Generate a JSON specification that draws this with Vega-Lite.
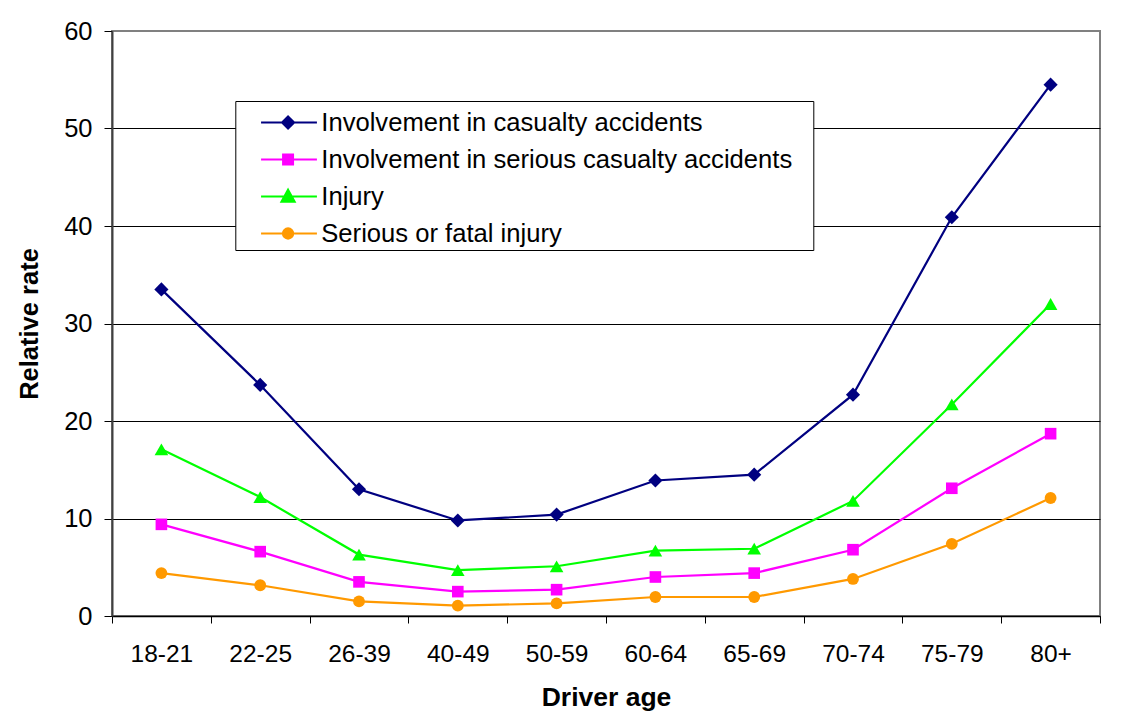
{
  "$schema": "https://vega.github.io/schema/vega-lite/v6.json",
  "width": 988,
  "height": 585,
  "autosize": "none",
  "padding": {"left": 112, "top": 31, "right": 28, "bottom": 104},
  "background": "white",
  "config": {
    "font": "Liberation Sans",
    "view": {"stroke": "#808080", "strokeWidth": 2}
  },
  "data": {
    "values": [
      {"age": "18-21", "series": "Involvement in casualty accidents", "value": 33.5},
      {"age": "22-25", "series": "Involvement in casualty accidents", "value": 23.7},
      {"age": "26-39", "series": "Involvement in casualty accidents", "value": 13.0},
      {"age": "40-49", "series": "Involvement in casualty accidents", "value": 9.8},
      {"age": "50-59", "series": "Involvement in casualty accidents", "value": 10.4},
      {"age": "60-64", "series": "Involvement in casualty accidents", "value": 13.9},
      {"age": "65-69", "series": "Involvement in casualty accidents", "value": 14.5},
      {"age": "70-74", "series": "Involvement in casualty accidents", "value": 22.7},
      {"age": "75-79", "series": "Involvement in casualty accidents", "value": 40.9},
      {"age": "80+", "series": "Involvement in casualty accidents", "value": 54.5},
      {"age": "18-21", "series": "Involvement in serious casualty accidents", "value": 9.4},
      {"age": "22-25", "series": "Involvement in serious casualty accidents", "value": 6.6},
      {"age": "26-39", "series": "Involvement in serious casualty accidents", "value": 3.5},
      {"age": "40-49", "series": "Involvement in serious casualty accidents", "value": 2.5},
      {"age": "50-59", "series": "Involvement in serious casualty accidents", "value": 2.7},
      {"age": "60-64", "series": "Involvement in serious casualty accidents", "value": 4.0},
      {"age": "65-69", "series": "Involvement in serious casualty accidents", "value": 4.4},
      {"age": "70-74", "series": "Involvement in serious casualty accidents", "value": 6.8},
      {"age": "75-79", "series": "Involvement in serious casualty accidents", "value": 13.1},
      {"age": "80+", "series": "Involvement in serious casualty accidents", "value": 18.7},
      {"age": "18-21", "series": "Injury", "value": 17.1},
      {"age": "22-25", "series": "Injury", "value": 12.2},
      {"age": "26-39", "series": "Injury", "value": 6.3},
      {"age": "40-49", "series": "Injury", "value": 4.7},
      {"age": "50-59", "series": "Injury", "value": 5.1},
      {"age": "60-64", "series": "Injury", "value": 6.7},
      {"age": "65-69", "series": "Injury", "value": 6.9},
      {"age": "70-74", "series": "Injury", "value": 11.8},
      {"age": "75-79", "series": "Injury", "value": 21.7},
      {"age": "80+", "series": "Injury", "value": 32.0},
      {"age": "18-21", "series": "Serious or fatal injury", "value": 4.4},
      {"age": "22-25", "series": "Serious or fatal injury", "value": 3.15},
      {"age": "26-39", "series": "Serious or fatal injury", "value": 1.5},
      {"age": "40-49", "series": "Serious or fatal injury", "value": 1.06},
      {"age": "50-59", "series": "Serious or fatal injury", "value": 1.3},
      {"age": "60-64", "series": "Serious or fatal injury", "value": 1.95},
      {"age": "65-69", "series": "Serious or fatal injury", "value": 1.95},
      {"age": "70-74", "series": "Serious or fatal injury", "value": 3.8},
      {"age": "75-79", "series": "Serious or fatal injury", "value": 7.4},
      {"age": "80+", "series": "Serious or fatal injury", "value": 12.1}
    ]
  },
  "encoding": {
    "x": {
      "field": "age",
      "type": "nominal",
      "sort": ["18-21", "22-25", "26-39", "40-49", "50-59", "60-64", "65-69", "70-74", "75-79", "80+"],
      "scale": {"type": "band", "paddingInner": 0, "paddingOuter": 0},
      "axis": {
        "title": "Driver age",
        "titleFontSize": 26.5,
        "titleFontWeight": "bold",
        "titleColor": "black",
        "titlePadding": 19,
        "labelFontSize": 24.5,
        "labelColor": "black",
        "labelAngle": 0,
        "labelPadding": 19,
        "tickBand": "extent",
        "tickSize": 7,
        "tickColor": "black",
        "tickWidth": 1,
        "domainColor": "black",
        "domainWidth": 1.5,
        "grid": false
      }
    },
    "y": {
      "field": "value",
      "type": "quantitative",
      "scale": {"domain": [0, 60], "nice": false},
      "axis": {
        "title": "Relative rate",
        "titleFontSize": 25.5,
        "titleFontWeight": "bold",
        "titleColor": "black",
        "titlePadding": 21,
        "values": [0, 10, 20, 30, 40, 50, 60],
        "labelFontSize": 25.5,
        "labelColor": "black",
        "labelPadding": 12,
        "tickSize": 8,
        "tickColor": "black",
        "domainColor": "#404040",
        "domainWidth": 2,
        "grid": true,
        "gridColor": {"condition": {"test": "datum.value == 60", "value": "#808080"}, "value": "black"},
        "gridWidth": 1,
        "gridOpacity": 1
      }
    }
  },
  "layer": [
    {
      "mark": {"type": "line", "strokeWidth": 2.2},
      "encoding": {
        "color": {
          "field": "series",
          "type": "nominal",
          "scale": {
            "domain": ["Involvement in casualty accidents", "Involvement in serious casualty accidents", "Injury", "Serious or fatal injury"],
            "range": ["#000080", "#FF00FF", "#00FF00", "#FF9900"]
          },
          "legend": {
            "orient": "none",
            "legendX": 123.3,
            "legendY": 70,
            "title": " ",
            "titleOrient": "right",
            "titlePadding": 19,
            "titleFontSize": 1,
            "padding": 2,
            "rowPadding": 3,
            "symbolSize": 1369,
            "symbolStrokeWidth": 2,
            "labelFontSize": 25.6,
            "labelColor": "black",
            "labelOffset": 45,
            "labelLimit": 0,
            "strokeColor": "black",
            "fillColor": "white",
            "encode": {
              "symbols": {
                "update": {
                  "shape": {"signal": "datum.value === 'Involvement in casualty accidents' ? 'M0.23,0H3.25M1.69,-0.33L2.02,0L1.69,0.33L1.36,0Z' : datum.value === 'Involvement in serious casualty accidents' ? 'M0.23,0H3.25M1.42,-0.27H1.96V0.27H1.42Z' : datum.value === 'Injury' ? 'M0.23,0H3.25M1.69,-0.37L2.05,0.29H1.33Z' : 'M0.23,0H3.25M1.97,0A0.28,0.28,0,1,1,1.41,0A0.28,0.28,0,1,1,1.97,0Z'"},
                  "fill": {"scale": "color", "field": "value"},
                  "stroke": {"scale": "color", "field": "value"},
                  "strokeWidth": {"value": 2},
                  "opacity": {"value": 1}
                }
              }
            }
          }
        }
      }
    },
    {
      "transform": [{"filter": "datum.series === 'Involvement in casualty accidents'"}],
      "mark": {"type": "point", "filled": true, "opacity": 1, "shape": "diamond", "size": 200, "color": "#000080"}
    },
    {
      "transform": [{"filter": "datum.series === 'Involvement in serious casualty accidents'"}],
      "mark": {"type": "point", "filled": true, "opacity": 1, "shape": "square", "size": 135, "color": "#FF00FF"}
    },
    {
      "transform": [{"filter": "datum.series === 'Injury'"}],
      "mark": {"type": "point", "filled": true, "opacity": 1, "shape": "triangle-up", "size": 185, "color": "#00FF00"}
    },
    {
      "transform": [{"filter": "datum.series === 'Serious or fatal injury'"}],
      "mark": {"type": "point", "filled": true, "opacity": 1, "shape": "circle", "size": 140, "color": "#FF9900"}
    }
  ]
}
